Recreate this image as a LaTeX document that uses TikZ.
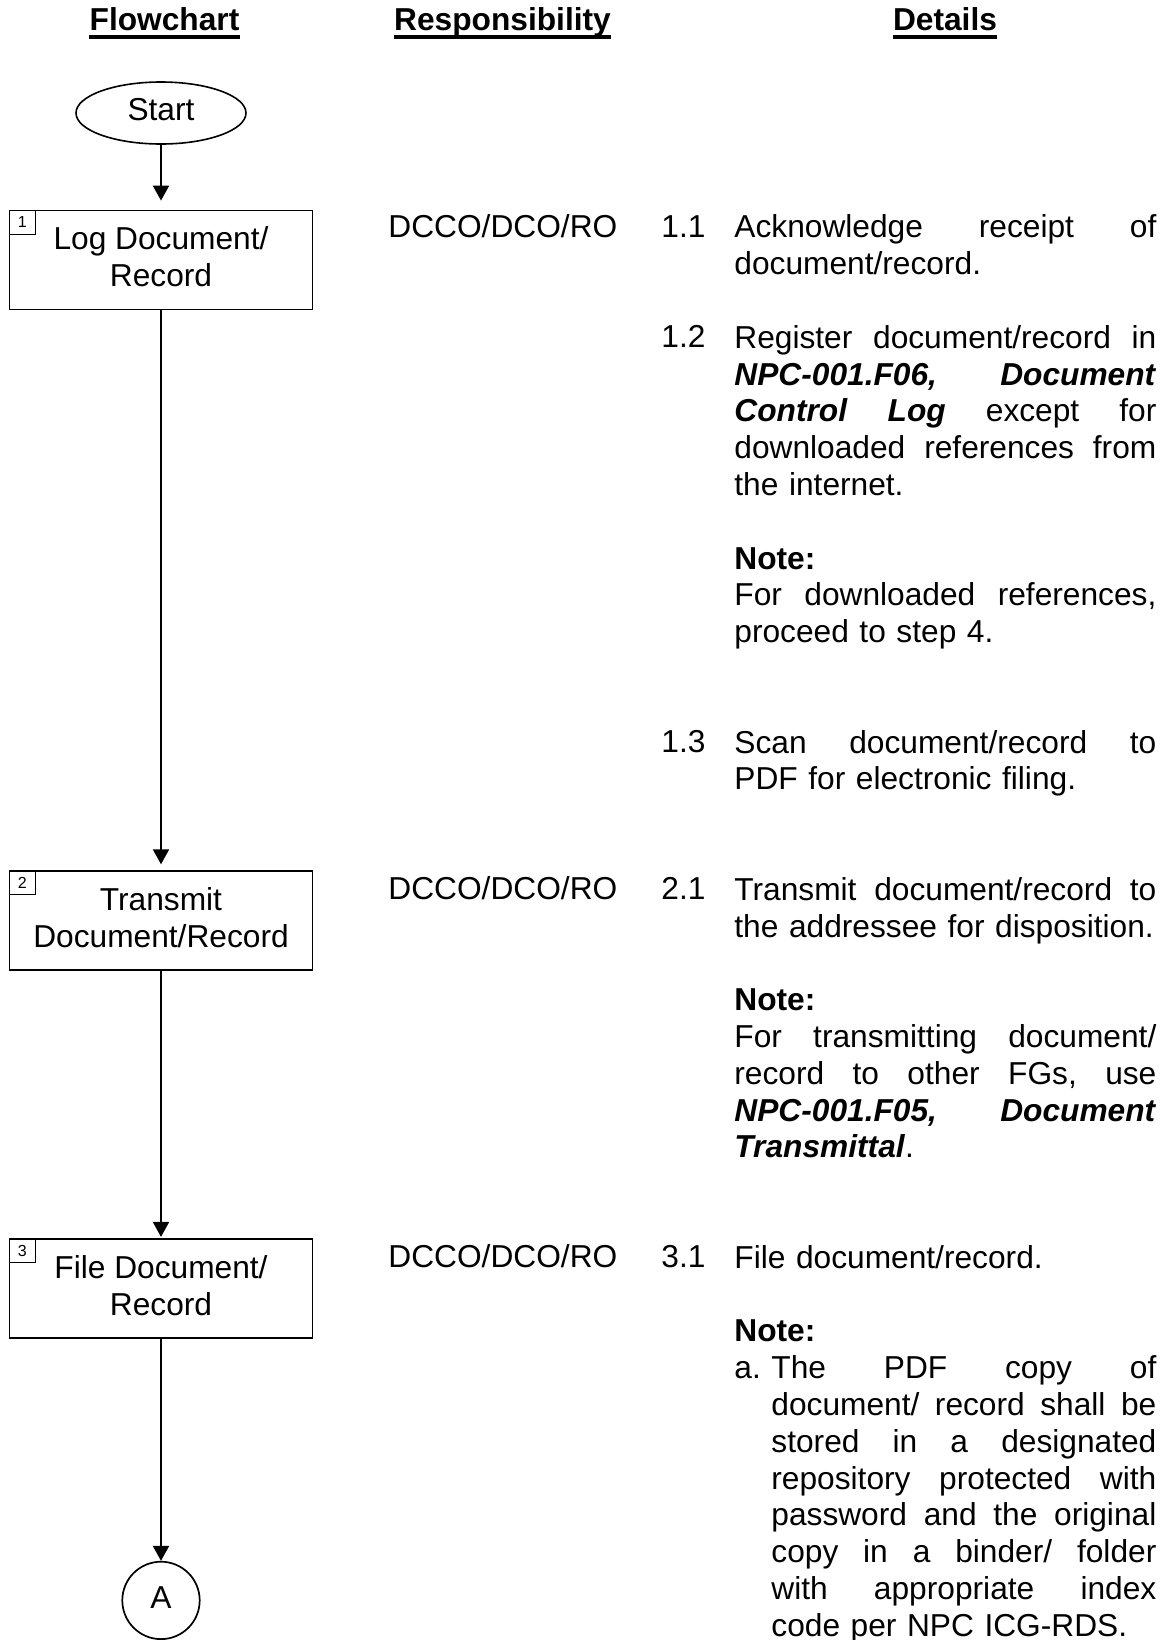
\documentclass[tikz,border=0pt]{standalone}
\usepackage{fontspec}
\setmainfont{Liberation Sans}
\usetikzlibrary{arrows.meta,shapes.geometric}

% widths of the justified text columns
\newlength\detw \setlength\detw{211pt}
\newlength\notew \setlength\notew{192.5pt}
\newcommand\txtfont{\fontsize{15.85pt}{18.4pt}\selectfont}
% first-line strut: fixes the height of the first line of a paragraph
\newcommand\fstrut{\rule{0pt}{13pt}}
% line strut used inside the flowchart shapes
\newcommand\bstrut{\rule[-3.1pt]{0pt}{13pt}}
% justified lines: every interword space stretches by the same amount
\newcommand\jl[1]{\leavevmode\hbox to\detw{\frenchspacing\spaceskip=0.25em plus 1fil\relax #1}}
\newcommand\jn[1]{\leavevmode\hbox to\notew{\frenchspacing\spaceskip=0.25em plus 1fil\relax #1}}
\newcommand\bi[1]{\textbf{\textit{#1}}}

\tikzset{
  head/.style={anchor=base, inner sep=0pt, font=\txtfont\bfseries},
  uline/.style={line width=2pt},
  startend/.style={ellipse, draw, line width=0.8pt, minimum width=85pt,
    minimum height=31pt, inner sep=0pt, font=\txtfont},
  stepbox/.style={rectangle, draw, line width=0.9pt, minimum width=151.5pt,
    minimum height=49.5pt, inner sep=0pt, align=center, font=\txtfont},
  numbox/.style={rectangle, draw, line width=0.6pt, anchor=north west,
    minimum width=13pt, minimum height=12pt, inner sep=0pt,
    font=\fontsize{8pt}{9pt}\selectfont},
  conn/.style={circle, draw, line width=0.85pt, minimum size=38.7pt,
    inner sep=0pt, font=\txtfont},
  flow/.style={draw, line width=1pt, -{Triangle[width=8pt,length=7.5pt]}},
  resp/.style={anchor=base west, inner sep=0pt, font=\txtfont},
  para/.style={anchor=north west, inner sep=0pt, text width=\detw,
    align=left, font=\txtfont},
  notepara/.style={anchor=north west, inner sep=0pt, text width=\notew,
    align=left, font=\txtfont}
}

\begin{document}
\begin{tikzpicture}[x=0.5pt,y=-0.5pt]
\fill[white] (0,0) rectangle (1169,1640);
\useasboundingbox (0,0) rectangle (1169,1640);

% column headings
\node[head] (h1) at (164.5,30) {Flowchart};
\node[head] (h2) at (502.5,30) {Responsibility};
\node[head] (h3) at (945,30) {Details};
\foreach \h in {h1,h2,h3}
  \draw[uline] ([yshift=-3.5pt]\h.base west) -- ([yshift=-3.5pt]\h.base east);

% flowchart
\node[startend] (start) at (161,113) {\bstrut Start};
\node[stepbox] (b1) at (161,260) {\bstrut Log Document/\\\bstrut Record};
\node[numbox] (n1) at (b1.north west) {1};
\node[stepbox] (b2) at (161,920.3) {\bstrut Transmit\\\bstrut Document/Record};
\node[numbox] (n2) at (b2.north west) {2};
\node[stepbox] (b3) at (161,1288.3) {\bstrut File Document/\\\bstrut Record};
\node[numbox] (n3) at (b3.north west) {3};
\node[conn] (A) at (161,1600.4) {\bstrut A};

\draw[flow, shorten >=4.5pt] (start) -- (b1);
\draw[flow, shorten >=2.8pt] (b1) -- (b2);
\draw[flow, shorten >=0.5pt] (b2) -- (b3);
\draw[flow] (b3) -- (A);

% responsibility
\node[resp] (r1) at (388,237.5) {DCCO/DCO/RO};
\node[resp] (r2) at (388,899.9) {DCCO/DCO/RO};
\node[resp] (r3) at (388,1267.9) {DCCO/DCO/RO};

% step numbers
\node[resp] (s11) at (661,237.5) {1.1};
\node[resp] (s12) at (661,347.9) {1.2};
\node[resp] (s13) at (661,752.7) {1.3};
\node[resp] (s21) at (661,899.9) {2.1};
\node[resp] (s31) at (661,1267.9) {3.1};

% details
\node[para] (p11) at (734,211.5)
  {\fstrut\jl{Acknowledge receipt of}\\document/record.};
\node[para] (p12) at (734,321.9)
  {\fstrut\jl{Register document/record in}\\
   \jl{\bi{NPC-001.F06,} \bi{Document}}\\
   \jl{\bi{Control} \bi{Log} except for}\\
   \jl{downloaded references from}\\
   the internet.};
\node[para] (p12n) at (734,542.7)
  {\fstrut\textbf{Note:}\\
   \jl{For downloaded references,}\\
   proceed to step 4.};
\node[para] (p13) at (734,726.7)
  {\fstrut\jl{Scan document/record to}\\PDF for electronic filing.};
\node[para] (p21) at (734,873.9)
  {\fstrut\jl{Transmit document/record to}\\the addressee for disposition.};
\node[para] (p21n) at (734,984.3)
  {\fstrut\textbf{Note:}\\
   \jl{For transmitting document/}\\
   \jl{record to other FGs, use}\\
   \jl{\bi{NPC-001.F05,} \bi{Document}}\\
   \bi{Transmittal}.};
\node[para] (p31) at (734,1241.9) {\fstrut File document/record.};
\node[para] (p31n) at (734,1315.5) {\fstrut\textbf{Note:}};
\node[resp] (la) at (734,1378.3) {a.};
\node[notepara] (p31a) at (771,1352.3)
  {\fstrut\jn{The PDF copy of}\\
   \jn{document/ record shall be}\\
   \jn{stored in a designated}\\
   \jn{repository protected with}\\
   \jn{password and the original}\\
   \jn{copy in a binder/ folder}\\
   \jn{with appropriate index}\\
   code per NPC ICG-RDS.};
\end{tikzpicture}
\end{document}
